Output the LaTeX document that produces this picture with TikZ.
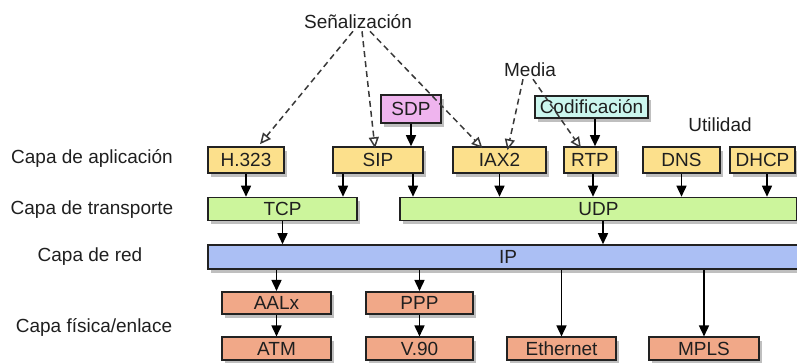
\documentclass[tikz,border=0pt]{standalone}
\usepackage{fontspec}
\setmainfont{Liberation Sans}
\usetikzlibrary{arrows.meta,shadows}

\definecolor{appfill}{HTML}{FCE08C}
\definecolor{trfill}{HTML}{CCF59C}
\definecolor{netfill}{HTML}{ABBFF4}
\definecolor{linkfill}{HTML}{F1A888}
\definecolor{sdpfill}{HTML}{EFB4EE}
\definecolor{codfill}{HTML}{CBF6EE}
\definecolor{boxline}{HTML}{222222}

\tikzset{
  txt/.style={font=\fontsize{19}{22}\selectfont, text=black!88, inner sep=0pt},
  box/.style={txt, draw=boxline, line width=1.6pt, inner sep=0pt,
    drop shadow={shadow xshift=2.5pt, shadow yshift=-3.5pt, opacity=0.25, fill=black}},
  app/.style={box, fill=appfill, minimum height=26pt},
  trans/.style={box, fill=trfill, minimum height=23pt},
  net/.style={box, fill=netfill, minimum height=24pt},
  link/.style={box, fill=linkfill, minimum height=22.5pt},
  arr/.style={-{Triangle[length=11pt,width=10pt]}, line width=1.6pt, black},
  dasharr/.style={-{Triangle[open,length=11pt,width=10pt]}, line width=1.5pt,
    dash pattern=on 6pt off 4pt, black!78},
}

\begin{document}
\begin{tikzpicture}[x=1pt,y=-1pt]
\useasboundingbox (0,0) rectangle (797,362);
\clip (0,0) rectangle (797,362);

% layer names
\node[txt] (lapp)  at (92,158) {Capa de aplicación};
\node[txt] (ltr)   at (92,210) {Capa de transporte};
\node[txt] (lred)  at (90,257) {Capa de red};
\node[txt] (lfis)  at (94,327) {Capa física/enlace};

% grouping labels
\node[txt] (sen)  at (358,22)  {Señalización};
\node[txt] (media) at (530,70) {Media};
\node[txt] (util) at (720,125) {Utilidad};

% helpers
\node[box, fill=sdpfill, minimum width=60pt, minimum height=28pt] (sdp) at (411,109) {SDP};
\node[box, fill=codfill, minimum width=113pt, minimum height=22pt] (cod) at (591.5,107) {Codificación};

% application layer
\node[app, minimum width=76pt] (h323) at (246,160) {H.323};
\node[app, minimum width=90pt] (sip)  at (378,160) {SIP};
\node[app, minimum width=93pt] (iax)  at (499.5,160) {IAX2};
\node[app, minimum width=52pt] (rtp)  at (590,160) {RTP};
\node[app, minimum width=77pt] (dns)  at (681.5,160) {DNS};
\node[app, minimum width=65pt] (dhcp) at (762.5,160) {DHCP};

% transport layer
\node[trans, minimum width=149pt] (tcp) at (282.5,209) {TCP};
\node[trans, minimum width=397pt] (udp) at (598.5,209) {UDP};

% network layer
\node[net, minimum width=600pt] (ip) at (508,257) {IP};

% link / physical layer
\node[link, minimum width=109pt] (aal)  at (276.5,303) {AALx};
\node[link, minimum width=107pt] (ppp)  at (419.5,303) {PPP};
\node[link, minimum width=109pt] (atm)  at (276.5,348.5) {ATM};
\node[link, minimum width=107pt] (v90)  at (419.5,348.5) {V.90};
\node[link, minimum width=109pt] (eth)  at (561.5,348.5) {Ethernet};
\node[link, minimum width=110pt] (mpls) at (704,348.5) {MPLS};

% signalling and media relations
\draw[dasharr] ([xshift=-5pt,yshift=-2pt]sen.south) -- ([xshift=14pt,yshift=2pt]h323.north);
\draw[dasharr] ([xshift=4pt,yshift=-2pt]sen.south) -- ([xshift=-3pt,yshift=-2pt]sip.north);
\draw[dasharr] ([xshift=12pt,yshift=-2pt]sen.south) -- ([xshift=-17pt,yshift=-2pt]iax.north);
\draw[dasharr] ([xshift=-7pt,yshift=-2pt]media.south) -- ([xshift=8pt,yshift=-4pt]iax.north);
\draw[dasharr] ([xshift=3pt,yshift=-2pt]media.south) -- ([xshift=-9pt,yshift=-2pt]rtp.north);

% helper protocols
\draw[arr] (sdp.south) -- (sdp.south |- sip.north);
\draw[arr] ([xshift=3.5pt]cod.south) -- ([xshift=3.5pt]cod.south |- rtp.north);

% application to transport
\draw[arr] (h323.south) -- (h323.south |- tcp.north);
\draw[arr] ([xshift=-35pt]sip.south) -- ([xshift=-35pt]sip.south |- tcp.north);
\draw[arr] ([xshift=35pt]sip.south) -- ([xshift=35pt]sip.south |- udp.north);
\draw[arr] (iax.south) -- (iax.south |- udp.north);
\draw[arr] ([xshift=3pt]rtp.south) -- ([xshift=3pt]rtp.south |- udp.north);
\draw[arr] (dns.south) -- (dns.south |- udp.north);
\draw[arr] ([xshift=4.5pt]dhcp.south) -- ([xshift=4.5pt]dhcp.south |- udp.north);

% transport to network
\draw[arr] (tcp.south) -- (tcp.south |- ip.north);
\draw[arr] ([xshift=4.5pt]udp.south) -- ([xshift=4.5pt]udp.south |- ip.north);

% network to link
\draw[arr] (aal.north |- ip.south) -- (aal.north);
\draw[arr] (ppp.north |- ip.south) -- (ppp.north);
\draw[arr] (eth.north |- ip.south) -- (eth.north);
\draw[arr] (mpls.north |- ip.south) -- (mpls.north);
\draw[arr] (aal.south) -- (atm.north);
\draw[arr] (ppp.south) -- (v90.north);
\end{tikzpicture}
\end{document}
